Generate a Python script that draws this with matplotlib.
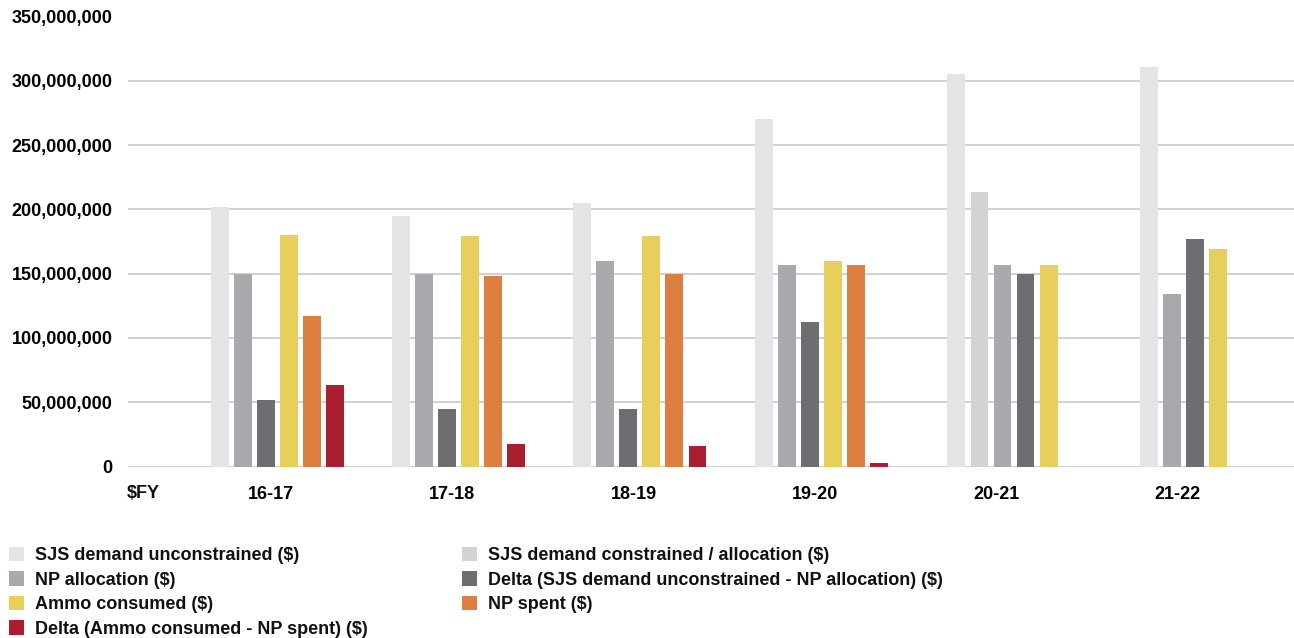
import matplotlib
matplotlib.use('Agg')
import matplotlib.pyplot as plt
from matplotlib.patches import Patch
from matplotlib.ticker import FuncFormatter

# font and colours
plt.rcParams['font.family'] = ['Liberation Sans', 'DejaVu Sans']
plt.rcParams['font.weight'] = 'bold'
plt.rcParams['text.color'] = '#111111'

years = ['16-17', '17-18', '18-19', '19-20', '20-21', '21-22']

# values in $, None where there is no figure for that year
demand_unconstrained = [202e6, 195e6, 205e6, 270e6, 305e6, 310.5e6]
demand_constrained = [None, None, None, None, 213.5e6, None]
np_allocation = [150e6, 150e6, 160e6, 156.7e6, 156.7e6, 134e6]
delta_demand = [52e6, 45e6, 45e6, 112.5e6, 149.7e6, 177e6]
ammo_consumed = [180e6, 179.3e6, 179.3e6, 160e6, 156.7e6, 169e6]
np_spent = [117e6, 148e6, 150e6, 156.7e6, None, None]
delta_ammo = [63.5e6, 17.5e6, 16e6, 2.5e6, None, None]

series_names = [
    'SJS demand unconstrained ($)',
    'SJS demand constrained / allocation ($)',
    'NP allocation ($)',
    'Delta (SJS demand unconstrained - NP allocation) ($)',
    'Ammo consumed ($)',
    'NP spent ($)',
    'Delta (Ammo consumed - NP spent) ($)',
]
series_values = [demand_unconstrained, demand_constrained, np_allocation,
                 delta_demand, ammo_consumed, np_spent, delta_ammo]
series_colors = ['#e3e4e6', '#d2d3d5', '#a8a9ac', '#6d6e71',
                 '#e8cf5c', '#dd7f40', '#a91f2f']

fig = plt.figure(figsize=(12.94, 6.38), dpi=100)
ax = fig.add_axes([128 / 1294, 1 - 466.5 / 638, 1166 / 1294, 450 / 638])

bar_w = 0.099
step = 0.127
shift = 0.035

# bars in each year are packed together, empty series are skipped
for gi, yr in enumerate(years):
    present = [si for si in range(len(series_values)) if series_values[si][gi] is not None]
    n = len(present)
    for k, si in enumerate(present):
        x = gi + shift + (k - (n - 1) / 2) * step
        ax.bar(x, series_values[si][gi], width=bar_w, color=series_colors[si],
               zorder=3, linewidth=0)

ax.set_ylim(0, 350e6)
ax.set_xlim(-0.789, 5.643)
ax.set_yticks([i * 50e6 for i in range(8)])
ax.yaxis.set_major_formatter(FuncFormatter(lambda v, p: '{:,.0f}'.format(v)))
ax.set_xticks(range(len(years)))
ax.set_xticklabels(years)
ax.grid(axis='y', color='#c9c9c9', linewidth=1.2, zorder=0)
ax.tick_params(axis='y', length=0, pad=11, labelsize=13)
ax.tick_params(axis='x', length=0, pad=14, labelsize=13)
for s in ax.spines.values():
    s.set_visible(False)

fig.text(127 / 1294, 1 - 493.5 / 638, '$FY', fontsize=13, fontweight='bold',
         ha='left', va='center')

# legend in two columns, placed by hand
handles = [Patch(facecolor=c, edgecolor='none') for c in series_colors]
left_idx = [0, 2, 4, 6]
right_idx = [1, 3, 5]
for idx, x0 in ((left_idx, 9 / 1294), (right_idx, 462 / 1294)):
    fig.legend([handles[i] for i in idx], [series_names[i] for i in idx],
               loc='upper left', bbox_to_anchor=(x0, 1 - 547 / 638),
               frameon=False, handlelength=0.85, handleheight=0.85,
               handletextpad=0.6, borderpad=0, borderaxespad=0,
               labelspacing=0.39, prop={'weight': 'bold', 'size': 13})

plt.savefig('out.png', dpi=100)
